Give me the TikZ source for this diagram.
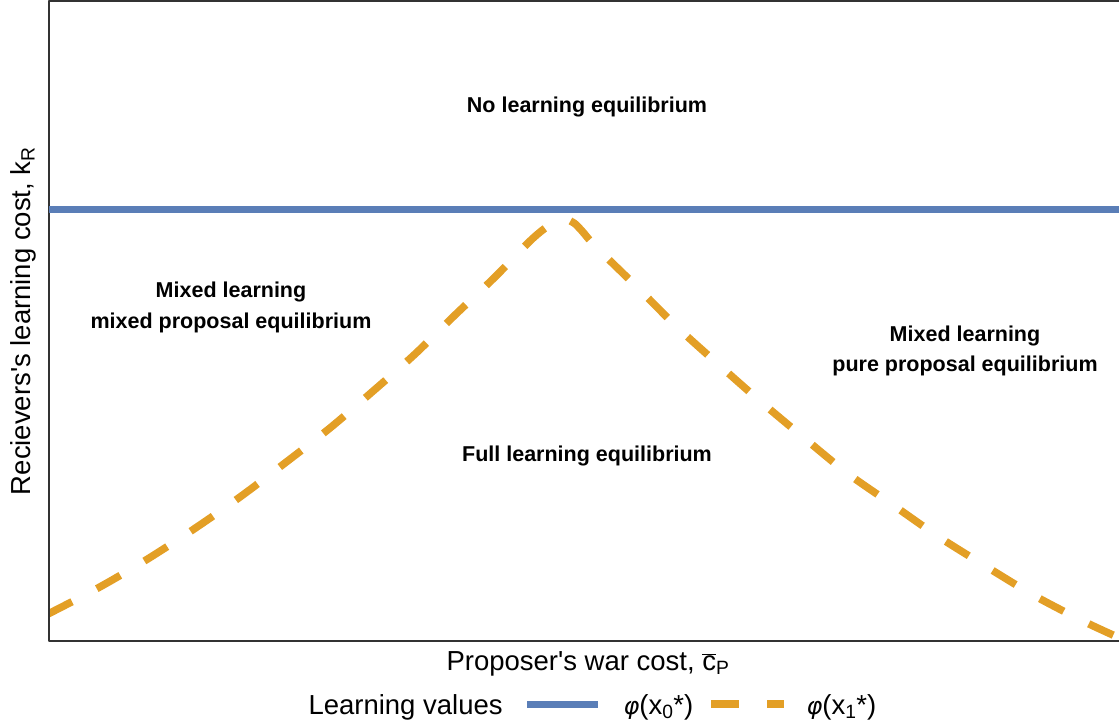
\documentclass[tikz,border=0pt]{standalone}
\usepackage{fontspec}
\setmainfont{Liberation Sans}
\newfontfamily\phifont{DejaVu Sans}
\definecolor{lineblue}{HTML}{5A7EB7}
\definecolor{lineorange}{HTML}{E39F26}
\definecolor{axisgray}{HTML}{333333}
\newcommand{\regfont}{\fontsize{21.5}{26}\selectfont\bfseries}
\newcommand{\labfont}{\fontsize{27.5}{32}\selectfont}
\newcommand{\phisym}{{\phifont\itshape\fontsize{24}{28}\selectfont φ}}
\begin{document}
\begin{tikzpicture}[x=1pt,y=-1pt,line join=round,
		lbl/.style={font=\labfont,anchor=base},
		reg/.style={font=\regfont,anchor=base}]
	\useasboundingbox (0,0) rectangle (1119,723);
	\draw[axisgray,line width=2pt] (1119,1)--(49,1)--(49,641)--(1119,641);
	\draw[lineblue,line width=7pt] (49,209.5)--(1119,209.5);
	\begin{scope}
		\clip (50,2) rectangle (1119,640);
		\draw[lineorange,line width=7.5pt,dash pattern=on 27pt off 28pt] plot[smooth,tension=0.5] coordinates {
			(48,614) (98,588) (146,560) (194,529) (240,497) (285,463) (330,428) (372,392)
			(414,355) (455,315) (495,277) (530,241) (548,226) (558,221) (566,219.5) (574,223)
			(582,231) (596,247) (637,287) (677,327) (718,364) (760,401) (803,437) (847,473)
			(893,505) (939,537) (987,567) (1035,596) (1085,622) (1124,640)};
	\end{scope}
	\node[reg] (nolearn) at (587,112.5) {No learning equilibrium};
	\node[reg] (leftA) at (231,297.5) {Mixed learning};
	\node[reg] (leftB) at (231,328.3) {mixed proposal equilibrium};
	\node[reg] (rightA) at (965,341) {Mixed learning};
	\node[reg] (rightB) at (965,371.7) {pure proposal equilibrium};
	\node[reg] (full) at (587,461) {Full learning equilibrium};
	\node[lbl] (xlab) at (588,670) {Proposer\textquotesingle s war cost, $\overline{\mbox{c}}$\textsubscript{P}};
	\node[lbl,rotate=90] (ylab) at (30,321) {Recievers\textquotesingle s learning cost, k\textsubscript{R}};
	\node[lbl,anchor=base west] (legtitle) at (305,714) {Learning values};
	\draw[lineblue,line width=7pt] (527,704)--(598,704);
	\node[lbl,anchor=base west] (legzero) at (620,714) {\phisym(x\textsubscript{0}*)};
	\draw[lineorange,line width=7.5pt,dash pattern=on 28pt off 28pt] (711,704)--(784,704);
	\node[lbl,anchor=base west] (legone) at (803,714) {\phisym(x\textsubscript{1}*)};
\end{tikzpicture}
\end{document}
